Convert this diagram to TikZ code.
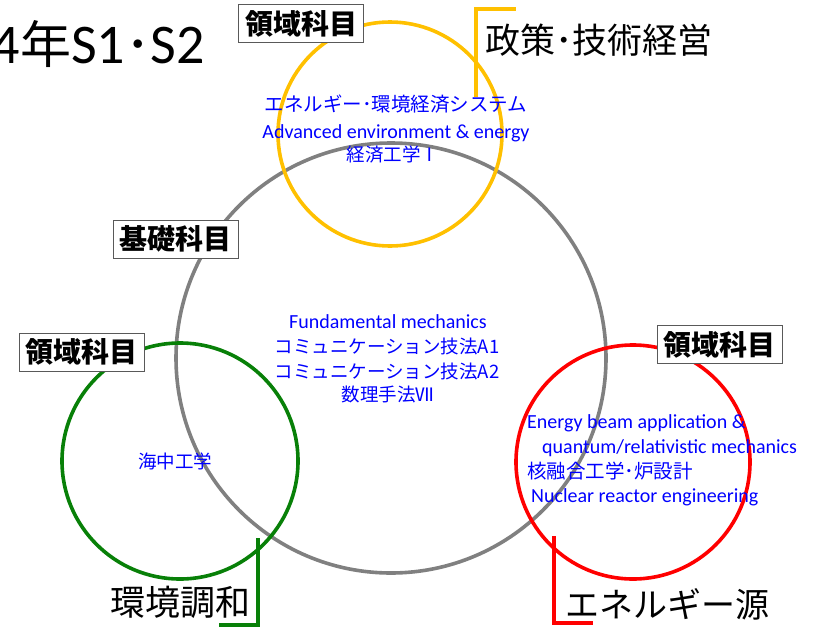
\documentclass[tikz,border=0pt]{standalone}
\usepackage{fontspec}
\setmainfont{Carlito}
\newfontfamily\jp{Noto Sans CJK JP}
\definecolor{cyel}{HTML}{FFC000}
\definecolor{cgray}{HTML}{808080}
\definecolor{cgreen}{HTML}{088008}
\definecolor{cred}{HTML}{FF0000}
\definecolor{cblue}{HTML}{0000FF}
\tikzset{
  ring/.style={line width=3.6pt},
  brack/.style={line width=3.6pt},
  areabox/.style={draw=black!65, line width=0.9pt, fill=white, inner sep=0pt,
    minimum width=125pt, minimum height=38pt, font=\jp\bfseries\fontsize{28}{30}\selectfont},
  bigl/.style={inner sep=0pt, font=\jp\fontsize{33}{36}\selectfont},
  lat/.style={inner sep=0pt, text=cblue, font=\fontsize{20}{22}\selectfont},
  jpt/.style={inner sep=0pt, text=cblue, font=\jp\fontsize{18.5}{20}\selectfont},
}
\begin{document}
\begin{tikzpicture}[x=1pt,y=-1pt]
\useasboundingbox (0,0) rectangle (821,637);
% circles
\draw[ring, cgray] (391,358) circle (215);
\draw[ring, cyel] (390,134) circle (112);
\draw[ring, cgreen] (180,461) circle (118);
\draw[ring, cred] (633,462) circle (117);
% brackets
\coordinate (yb1) at (476,97); \coordinate (yb2) at (476,9); \coordinate (yb3) at (516,9);
\draw[brack, cyel] (yb1) -- (yb2) -- (yb3);
\coordinate (gb1) at (258,538); \coordinate (gb2) at (258,625); \coordinate (gb3) at (219,625);
\draw[brack, cgreen] (gb1) -- (gb2) -- (gb3);
\coordinate (rb1) at (554,536); \coordinate (rb2) at (554,623); \coordinate (rb3) at (593,623);
\draw[brack, cred] (rb1) -- (rb2) -- (rb3);
% title
\node[inner sep=0pt, anchor=base east] (title) at (205,63)
  {\fontsize{56}{60}\selectfont 4{\jp\fontsize{51}{55}\selectfont 年}S1{\jp\fontsize{51}{55}\selectfont ･}S2};
% big labels
\node[bigl, anchor=base west, font=\jp\fontsize{35}{38}\selectfont] (policy) at (485,53) {政策･技術経営};
\node[bigl, anchor=base east, font=\jp\fontsize{35}{38}\selectfont] (env) at (251,615) {環境調和};
\node[bigl, anchor=base west, font=\jp\fontsize{34}{37}\selectfont] (energy) at (565,617) {エネルギー源};
% area boxes
\node[areabox] (box1) at (301,23.5) {領域科目};
\node[areabox] (box2) at (175.5,239) {基礎科目};
\node[areabox] (box3) at (81.5,352) {領域科目};
\node[areabox] (box4) at (719.5,344.5) {領域科目};
% yellow circle texts
\node[jpt, anchor=base, font=\jp\fontsize{19.5}{21}\selectfont] (y1) at (396,111) {エネルギー･環境経済システム};
\node[lat, anchor=base] (y2) at (396,138) {Advanced environment \& energy};
\node[jpt, anchor=base] (y3) at (393,161) {経済工学Ⅰ};
% gray circle texts
\node[lat, anchor=base] (g1) at (388,328) {Fundamental mechanics};
\node[jpt, anchor=base] (g2) at (387,353) {コミュニケーション技法A1};
\node[jpt, anchor=base] (g3) at (387,378) {コミュニケーション技法A2};
\node[jpt, anchor=base] (g4) at (388,401) {数理手法Ⅶ};
% green circle text
\node[jpt, anchor=base] (gr1) at (175,468) {海中工学};
% red circle texts
\node[lat, anchor=base west] (r1) at (527,428) {Energy beam application \&};
\node[lat, anchor=base west] (r2) at (542,453) {quantum/relativistic mechanics};
\node[jpt, anchor=base west, font=\jp\fontsize{19.5}{21}\selectfont] (r3) at (527,478) {核融合工学･炉設計};
\node[lat, anchor=base west] (r4) at (531,502) {Nuclear reactor engineering};
\end{tikzpicture}
\end{document}
